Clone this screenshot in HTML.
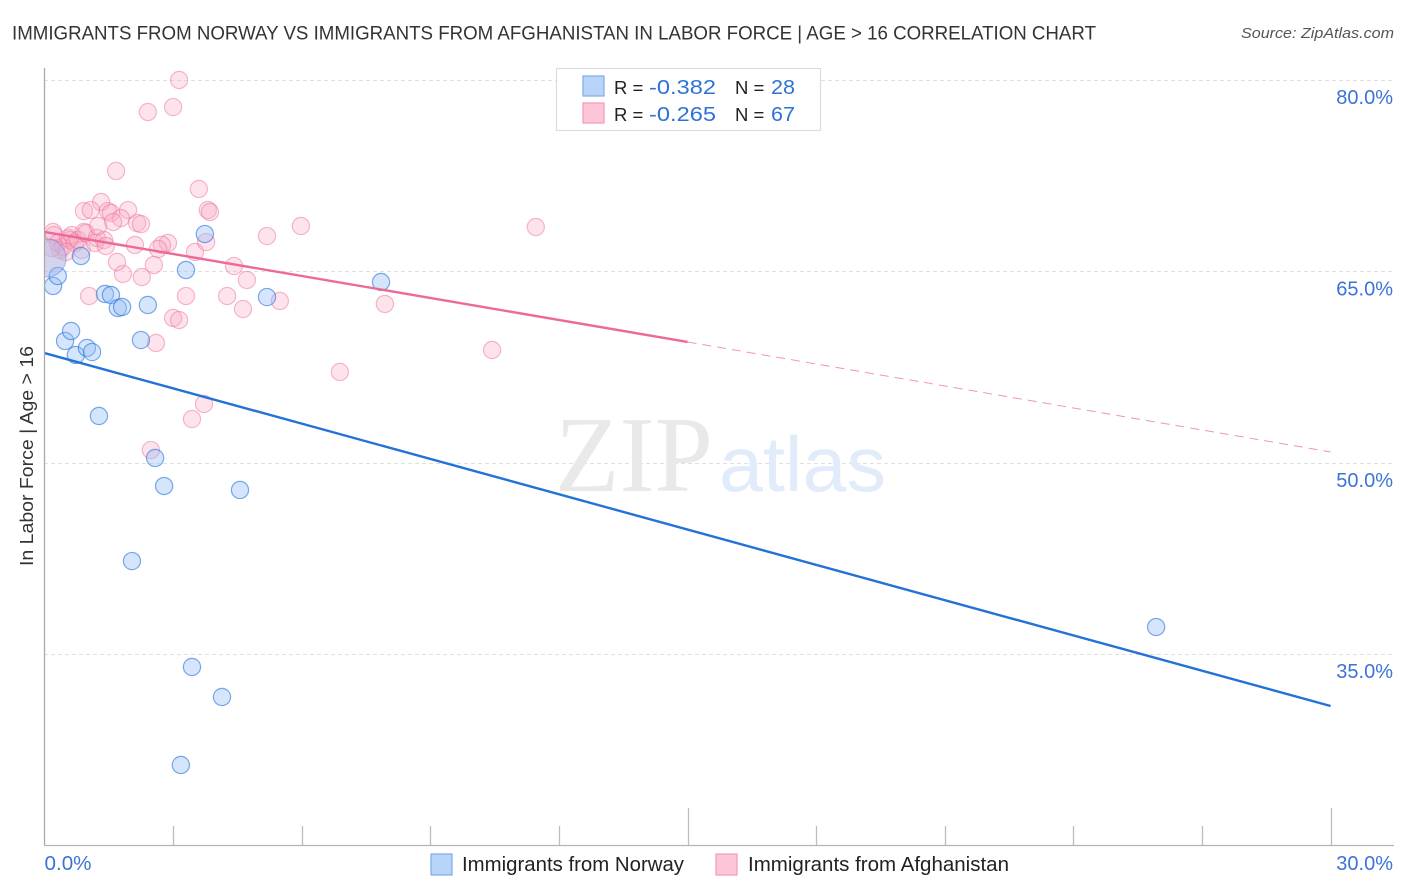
<!DOCTYPE html>
<html lang="en">
<head>
<meta charset="utf-8">
<title>Immigrants from Norway vs Immigrants from Afghanistan in Labor Force | Age > 16 Correlation Chart</title>
<style>
html,body{margin:0;padding:0;background:#fff;}
svg{display:block;font-family:"Liberation Sans",sans-serif;}
</style>
</head>
<body>
<svg id="chart" xmlns="http://www.w3.org/2000/svg" width="1406" height="892" viewBox="0 0 1406 892">
  <defs>
    <clipPath id="plot-clip"><rect x="44" y="60" width="1350" height="785"/></clipPath>
  </defs>
  <rect x="0" y="0" width="1406" height="892" fill="#fff"/>
  <text x="12" y="39.5" font-size="19.5" fill="#333" textLength="1084" lengthAdjust="spacingAndGlyphs">IMMIGRANTS FROM NORWAY VS IMMIGRANTS FROM AFGHANISTAN IN LABOR FORCE | AGE &gt; 16 CORRELATION CHART</text>
  <text x="1394" y="38" font-size="15" font-style="italic" fill="#555" text-anchor="end" textLength="153" lengthAdjust="spacingAndGlyphs">Source: ZipAtlas.com</text>

  <g id="grid"></g>

  <g>
    <text x="555" y="491" font-family="'Liberation Serif',serif" font-size="108" fill="#e9e9e9" textLength="158" lengthAdjust="spacingAndGlyphs">ZIP</text>
    <text x="719" y="491" font-size="78" fill="#e2ebf9" textLength="167" lengthAdjust="spacingAndGlyphs">atlas</text>
  </g>

  <g id="points" clip-path="url(#plot-clip)"></g>
  <g id="trends"></g>

  <g id="axes">
    <line x1="44.5" y1="68" x2="44.5" y2="845" stroke="#aaa" stroke-width="1.3"/>
    <line x1="44" y1="845.5" x2="1394" y2="845.5" stroke="#b5b5b5" stroke-width="1.3"/>
  </g>
  <g id="tick-labels"></g>

  <text transform="translate(33,456) rotate(-90)" font-size="18.5" fill="#333" text-anchor="middle" textLength="220" lengthAdjust="spacingAndGlyphs">In Labor Force | Age &gt; 16</text>

  <g>
    <rect x="556.5" y="68.5" width="264" height="62" fill="#fff" stroke="#dcdcdc" stroke-width="1.2"/>
    <rect x="583" y="76" width="21" height="20" fill="#b8d4f8" stroke="#7fabe6" stroke-width="1.2"/>
    <rect x="583" y="103" width="21" height="20" fill="#fcc6d8" stroke="#f29ab8" stroke-width="1.2"/>
    <text x="614" y="94" font-size="18.5" fill="#222">R =</text>
    <text x="649" y="94" font-size="20" fill="#2f72d6" textLength="67" lengthAdjust="spacingAndGlyphs">-0.382</text>
    <text x="735" y="94" font-size="18.5" fill="#222">N =</text>
    <text x="771" y="94" font-size="20" fill="#2f72d6" textLength="24" lengthAdjust="spacingAndGlyphs">28</text>
    <text x="614" y="121" font-size="18.5" fill="#222">R =</text>
    <text x="649" y="121" font-size="20" fill="#2f72d6" textLength="67" lengthAdjust="spacingAndGlyphs">-0.265</text>
    <text x="735" y="121" font-size="18.5" fill="#222">N =</text>
    <text x="771" y="121" font-size="20" fill="#2f72d6" textLength="24" lengthAdjust="spacingAndGlyphs">67</text>
  </g>

  <g>
    <g>
      <rect x="431" y="854" width="21" height="21" fill="#b8d4f8" stroke="#7fabe6" stroke-width="1.2"/>
      <text x="462" y="871" font-size="20" fill="#222" textLength="222" lengthAdjust="spacingAndGlyphs">Immigrants from Norway</text>
    </g>
    <g>
      <rect x="716" y="854" width="21" height="21" fill="#fcc6d8" stroke="#f29ab8" stroke-width="1.2"/>
      <text x="748" y="871" font-size="20" fill="#222" textLength="261" lengthAdjust="spacingAndGlyphs">Immigrants from Afghanistan</text>
    </g>
  </g>
</svg>

<script>
// Tick values and labels
const yTickValues = [80, 65, 50, 35];
const yTickLabels = ["80.0%", "65.0%", "50.0%", "35.0%"];
const xTickValues = [0, 3, 6, 9, 12, 15, 18, 21, 24, 27, 30];
const xMajorTicks = [15, 30];
const xEndLabels = ["0.0%", "30.0%"];

// Norway series (percent immigrants, percent in labor force); last point is the aggregated large one
const norwayX = [0.20,0.31,0.48,0.62,0.73,0.99,1.11,0.85,1.27,1.41,1.55,1.71,1.81,2.41,2.25,2.58,2.79,2.04,3.30,3.74,4.56,5.19,7.85,25.93,3.44,4.14,3.18,0.06];
const norwayY = [63.86,64.64,59.55,60.33,58.45,59.00,58.68,66.21,53.67,63.23,63.15,62.13,62.21,62.37,59.62,50.38,48.18,42.30,65.11,67.93,47.87,62.99,64.17,37.13,34.00,31.65,26.32,66.05];

// Afghanistan series; last point is the aggregated large one
const afghanistanX = [3.14,2.41,3.00,1.67,3.60,1.32,0.92,1.08,1.48,1.55,1.95,1.78,1.60,2.16,2.25,3.81,3.86,5.19,5.98,11.46,3.51,3.77,2.88,2.74,2.65,2.11,2.55,2.27,1.83,1.69,4.42,4.72,4.26,3.30,4.63,5.49,7.94,3.00,3.14,2.60,6.89,10.44,3.72,3.44,2.48,1.04,0.20,0.22,0.31,0.36,0.43,0.55,0.59,0.64,0.71,0.78,0.92,0.97,0.87,1.18,1.22,1.39,1.43,1.25,0.17,0.50,0.06];
const afghanistanY = [80.00,77.49,77.88,72.87,71.46,70.44,69.73,69.81,69.73,69.58,69.81,69.18,68.87,68.79,68.71,69.81,69.66,67.77,68.56,68.48,66.52,67.30,67.23,67.07,66.76,67.07,65.50,64.56,64.80,65.74,65.42,64.33,63.07,63.07,62.05,62.68,62.45,61.35,61.19,59.39,57.12,58.84,54.61,53.43,51.00,63.07,68.09,67.85,67.23,66.68,66.91,67.62,67.46,67.85,67.23,67.46,68.09,68.01,66.68,67.23,67.62,67.46,66.99,68.56,66.83,66.52,66.05];

// Trend lines: value at 0%, at the end of the solid part, and at 30%
const trendX = [0, 15, 30];
const norwayTrend = [58.60, 44.77, 30.94];
const afghanistanTrend = [68.09, 59.47, 50.85];

const NS = "http://www.w3.org/2000/svg";
const X0 = 44.5, X_PER_UNIT = 42.87;
const Y80 = 80, Y_PER_UNIT = 12.76;
function xScale(v) { return X0 + v * X_PER_UNIT; }
function yScale(v) { return Y80 + (80 - v) * Y_PER_UNIT; }
function mk(tag, attrs) {
  const el = document.createElementNS(NS, tag);
  for (const k in attrs) el.setAttribute(k, attrs[k]);
  return el;
}

const grid = document.getElementById("grid");
const axes = document.getElementById("axes");
const tickLabels = document.getElementById("tick-labels");
const points = document.getElementById("points");
const trends = document.getElementById("trends");

yTickValues.forEach(function (v, i) {
  const y = Math.round(yScale(v)) + 0.5;
  const line = mk("line", { x1: 44, x2: 1394, y1: y, y2: y, stroke: "#e0e0e0", "stroke-width": 1, "stroke-dasharray": "4 3" });
  
  
  grid.appendChild(line);
  const label = mk("text", { x: 1393, y: yScale(v) + 24, "font-size": 20, fill: "#3d73d6", "text-anchor": "end" });
  
  
  label.textContent = yTickLabels[i];
  tickLabels.appendChild(label);
});

xTickValues.forEach(function (v) {
  if (v === 0) return;
  const x = Math.round(xScale(v)) + 0.5;
  const top = xMajorTicks.indexOf(v) >= 0 ? 808 : 826;
  const tick = mk("line", { x1: x, x2: x, y1: top, y2: 845, stroke: "#bdbdbd", "stroke-width": 1.3 });
  
  
  axes.appendChild(tick);
});

const xLabelStart = mk("text", { x: xScale(xTickValues[0]), y: 870, "font-size": 20, fill: "#3d73d6", textLength: 47, lengthAdjust: "spacingAndGlyphs" });


xLabelStart.textContent = xEndLabels[0];
tickLabels.appendChild(xLabelStart);

const xLabelEnd = mk("text", { x: 1393, y: 870, "font-size": 20, fill: "#3d73d6", "text-anchor": "end" });


xLabelEnd.textContent = xEndLabels[1];
tickLabels.appendChild(xLabelEnd);

function drawSeries(xs, ys, fill, stroke, bigStroke, name) {
  xs.forEach(function (v, i) {
    const big = i === xs.length - 1;
    const c = mk("circle", {
      cx: xScale(v), cy: yScale(ys[i]), r: big ? 19 : 8.6,
      fill: fill, stroke: big ? bigStroke : stroke, "stroke-width": 1.2
    });
    
    
    points.appendChild(c);
  });
}
drawSeries(afghanistanX, afghanistanY, "rgba(248,170,198,0.33)", "rgba(238,110,155,0.48)", "rgba(238,110,155,0.22)", "afghanistan-point");
drawSeries(norwayX, norwayY, "rgba(150,190,245,0.40)", "rgba(45,120,220,0.62)", "rgba(45,120,220,0.25)", "norway-point");

const norwayLine = mk("line", {
  x1: xScale(trendX[0]), y1: yScale(norwayTrend[0]),
  x2: xScale(trendX[2]), y2: yScale(norwayTrend[2]),
  stroke: "#2272d8", "stroke-width": 2.4
});


trends.appendChild(norwayLine);

const afghanistanSolid = mk("line", {
  x1: xScale(trendX[0]), y1: yScale(afghanistanTrend[0]),
  x2: xScale(trendX[1]), y2: yScale(afghanistanTrend[1]),
  stroke: "#ec6a98", "stroke-width": 2.4
});


trends.appendChild(afghanistanSolid);

const afghanistanDash = mk("line", {
  x1: xScale(trendX[1]), y1: yScale(afghanistanTrend[1]),
  x2: xScale(trendX[2]), y2: yScale(afghanistanTrend[2]),
  stroke: "#f095b5", "stroke-width": 1, "stroke-dasharray": "9 6"
});


trends.appendChild(afghanistanDash);
</script>
</body>
</html>
